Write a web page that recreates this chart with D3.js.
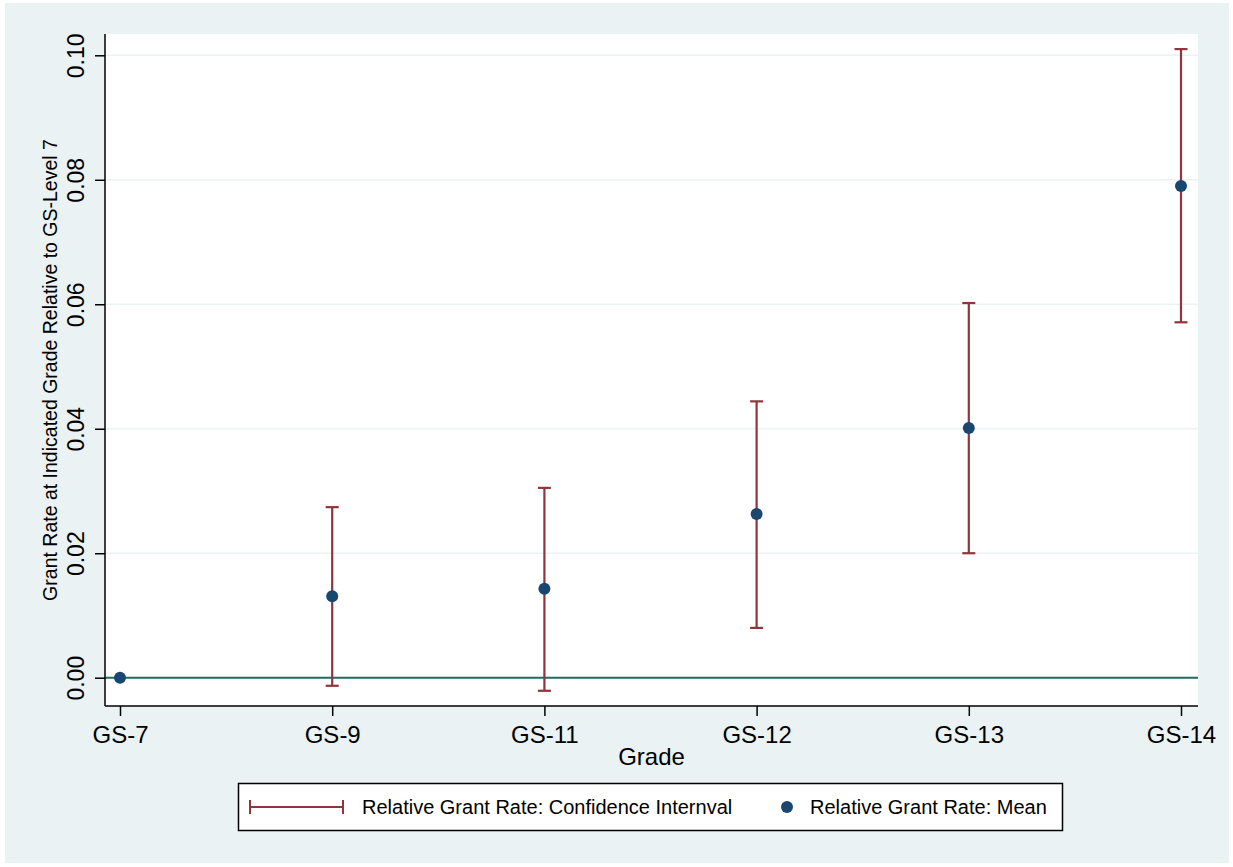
<!DOCTYPE html>
<html>
<head>
<meta charset="utf-8">
<script src="https://cdn.jsdelivr.net/npm/d3@7"></script>
<style>
  body { margin: 0; background: #fff; }
  text { font-family: "Liberation Sans", Arial, sans-serif; fill: #000; }
</style>
</head>
<body>
<script>
// data
const grades = ["GS-7", "GS-9", "GS-11", "GS-12", "GS-13", "GS-14"];
const means = [0, 0.0131, 0.0143, 0.0263, 0.0401, 0.0790];
const ciLow = [null, -0.0013, -0.0021, 0.0080, 0.0200, 0.0571];
const ciHigh = [null, 0.0274, 0.0305, 0.0444, 0.0602, 0.1010];
const yTicks = [0, 0.02, 0.04, 0.06, 0.08, 0.10];

const W = 1233, H = 867;
const plot = {left: 105, right: 1198, top: 34, bottom: 706};

const svg = d3.select("body").append("svg")
    .attr("width", W)
    .attr("height", H);

// outer region
svg.append("rect").attr("x", 0).attr("y", 0).attr("width", W).attr("height", H).attr("fill", "#fff");
svg.append("rect").attr("x", 5).attr("y", 3).attr("width", 1224).attr("height", 860).attr("fill", "#eaf2f3");
svg.append("rect")
    .attr("x", plot.left).attr("y", plot.top)
    .attr("width", plot.right - plot.left).attr("height", plot.bottom - plot.top)
    .attr("fill", "#fff");

//scales
const xScale = d3.scalePoint()
    .domain(grades)
    .range([120, 1181]);
const yScale = d3.scaleLinear()
    .domain([0, 0.10])
    .range([677.7, 55.3]);

//grid lines
svg.append("g").selectAll("line")
    .data(yTicks.filter(d => d > 0))
    .enter().append("line")
    .attr("x1", plot.left).attr("x2", plot.right)
    .attr("y1", d => yScale(d)).attr("y2", d => yScale(d))
    .attr("stroke", "#eaf2f3").attr("stroke-width", 1.5);

//zero line
svg.append("line")
    .attr("x1", plot.left).attr("x2", plot.right)
    .attr("y1", yScale(0)).attr("y2", yScale(0))
    .attr("stroke", "#226a62").attr("stroke-width", 2);

//y axis
const yAxis = d3.axisLeft(yScale).tickValues(yTicks).tickFormat(d3.format(".2f")).tickSize(10).tickSizeOuter(0);
const yg = svg.append("g")
    .attr("transform", "translate(" + plot.left + ",0)")
    .call(yAxis);
yg.select(".domain").attr("d", "M0," + plot.top + "V" + plot.bottom);
yg.selectAll("text")
    .attr("font-size", 23)
    .attr("x", null).attr("dy", null)
    .attr("text-anchor", "middle")
    .attr("transform", "translate(-21,0) rotate(-90)");

//x axis
const xAxis = d3.axisBottom(xScale).tickSize(10).tickSizeOuter(0);
const xg = svg.append("g")
    .attr("transform", "translate(0," + plot.bottom + ")")
    .call(xAxis);
xg.select(".domain").attr("d", "M" + plot.left + ",0H" + plot.right);
xg.selectAll("text").attr("font-size", 24).attr("y", 37).attr("dy", null);

svg.selectAll(".domain, .tick line").attr("stroke", "#000").attr("stroke-width", 1.5);
svg.selectAll(".tick text").attr("fill", "#000").attr("font-family", "'Liberation Sans', Arial, sans-serif");

//axis titles
svg.append("text")
    .attr("x", (plot.left + plot.right) / 2).attr("y", 765)
    .attr("text-anchor", "middle").attr("font-size", 24)
    .text("Grade");
svg.append("text")
    .attr("transform", "translate(57," + ((plot.top + plot.bottom) / 2) + ") rotate(-90)")
    .attr("text-anchor", "middle").attr("font-size", 19.5)
    .text("Grant Rate at Indicated Grade Relative to GS-Level 7");

//confidence intervals
const ciColor = "#90353b";
const ci = grades.map((g, i) => ({g: g, lo: ciLow[i], hi: ciHigh[i]})).filter(d => d.lo !== null);
const ciG = svg.append("g").attr("stroke", ciColor).attr("stroke-width", 2.2);
ciG.selectAll(".v").data(ci).enter().append("line")
    .attr("x1", d => xScale(d.g)).attr("x2", d => xScale(d.g))
    .attr("y1", d => yScale(d.lo)).attr("y2", d => yScale(d.hi));
ciG.selectAll(".hi").data(ci).enter().append("line")
    .attr("x1", d => xScale(d.g) - 6.5).attr("x2", d => xScale(d.g) + 6.5)
    .attr("y1", d => yScale(d.hi)).attr("y2", d => yScale(d.hi));
ciG.selectAll(".lo").data(ci).enter().append("line")
    .attr("x1", d => xScale(d.g) - 6.5).attr("x2", d => xScale(d.g) + 6.5)
    .attr("y1", d => yScale(d.lo)).attr("y2", d => yScale(d.lo));

//means
svg.append("g").selectAll("circle")
    .data(means)
    .enter().append("circle")
    .attr("cx", (d, i) => xScale(grades[i]))
    .attr("cy", d => yScale(d))
    .attr("r", 6)
    .attr("fill", "#1a476f");

//legend
const lg = svg.append("g");
lg.append("rect")
    .attr("x", 238.5).attr("y", 783.5).attr("width", 824).attr("height", 47)
    .attr("fill", "#fff").attr("stroke", "#000").attr("stroke-width", 1.5);
lg.append("line").attr("x1", 250).attr("x2", 343).attr("y1", 807).attr("y2", 807)
    .attr("stroke", ciColor).attr("stroke-width", 2.2);
[250, 343].forEach(x => lg.append("line").attr("x1", x).attr("x2", x).attr("y1", 800).attr("y2", 814)
    .attr("stroke", ciColor).attr("stroke-width", 2));
lg.append("text").attr("x", 362).attr("y", 814).attr("font-size", 20)
    .text("Relative Grant Rate: Confidence Internval");
lg.append("circle").attr("cx", 787).attr("cy", 807).attr("r", 6).attr("fill", "#1a476f");
lg.append("text").attr("x", 810).attr("y", 814).attr("font-size", 20)
    .text("Relative Grant Rate: Mean");
</script>
</body>
</html>
